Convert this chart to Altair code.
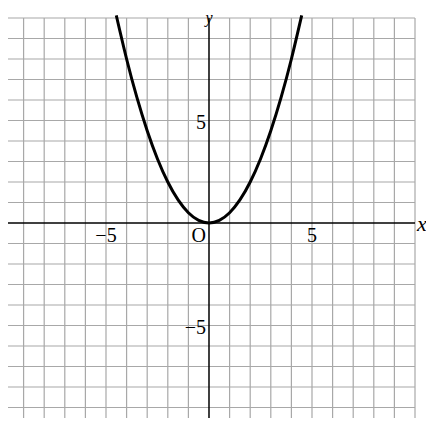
import altair as alt
import pandas as pd

# ---- data ----
grid_vals = list(range(-10, 11))          # grid lines, one per unit
axis_span = [-10, 10]                      # extent of the drawn axes
curve_x = [-4.5, -4, -3.5, -3, -2.5, -2, -1.5, -1, -0.5, 0,
           0.5, 1, 1.5, 2, 2.5, 3, 3.5, 4, 4.5]
curve_y = [10.125, 8, 6.125, 4.5, 3.125, 2, 1.125, 0.5, 0.125, 0,
           0.125, 0.5, 1.125, 2, 3.125, 4.5, 6.125, 8, 10.125]
x_tick_vals = [-5, 5]
x_tick_text = ["\u22125", "5"]
y_tick_vals = [5, -5]
y_tick_text = ["5", "\u22125"]

W, H = 418, 410
xs = alt.Scale(domain=[-9.757, 10.534], nice=False, zero=False)
ys = alt.Scale(domain=[-9.512, 10.488], nice=False, zero=False)
FONT = "Liberation Serif"
GRID = "#a8a8a8"

vgrid = pd.DataFrame({"x": [v for v in grid_vals if v != 0],
                      "y": axis_span[0], "y2": axis_span[1]})
hgrid = pd.DataFrame({"y": [v for v in grid_vals if v != 0],
                      "x": axis_span[0], "x2": axis_span[1]})

vg = alt.Chart(vgrid).mark_rule(color=GRID, strokeWidth=1.2, clip=True).encode(
    x=alt.X("x:Q", scale=xs, axis=None),
    y=alt.Y("y:Q", scale=ys, axis=None), y2="y2:Q")
hg = alt.Chart(hgrid).mark_rule(color=GRID, strokeWidth=1.2, clip=True).encode(
    y=alt.Y("y:Q", scale=ys, axis=None),
    x=alt.X("x:Q", scale=xs, axis=None), x2="x2:Q")

xaxis = alt.Chart(pd.DataFrame({"x": [axis_span[0]], "x2": [axis_span[1]], "y": [0]})).mark_rule(
    color="black", strokeWidth=1.5, clip=True).encode(
    x=alt.X("x:Q", scale=xs, axis=None), x2="x2:Q", y=alt.Y("y:Q", scale=ys, axis=None))
yaxis = alt.Chart(pd.DataFrame({"y": [axis_span[0]], "y2": [axis_span[1]], "x": [0]})).mark_rule(
    color="black", strokeWidth=1.5, clip=True).encode(
    y=alt.Y("y:Q", scale=ys, axis=None), y2="y2:Q", x=alt.X("x:Q", scale=xs, axis=None))

curve = alt.Chart(pd.DataFrame({"x": curve_x, "y": curve_y})).mark_line(
    color="black", strokeWidth=3, interpolate="natural", clip=True).encode(
    x=alt.X("x:Q", scale=xs, axis=None), y=alt.Y("y:Q", scale=ys, axis=None), order="x:Q")

xt = alt.Chart(pd.DataFrame({"x": x_tick_vals, "y": [0, 0], "t": x_tick_text})).mark_text(
    font=FONT, fontSize=20, align="center", baseline="middle", dy=13, color="black").encode(
    x=alt.X("x:Q", scale=xs, axis=None), y=alt.Y("y:Q", scale=ys, axis=None), text="t:N")
yt = alt.Chart(pd.DataFrame({"x": [0, 0], "y": y_tick_vals, "t": y_tick_text})).mark_text(
    font=FONT, fontSize=20, align="right", baseline="middle", dx=-3, dy=2, color="black").encode(
    x=alt.X("x:Q", scale=xs, axis=None), y=alt.Y("y:Q", scale=ys, axis=None), text="t:N")
origin = alt.Chart(pd.DataFrame({"x": [0], "y": [0], "t": ["O"]})).mark_text(
    font=FONT, fontSize=20, align="right", baseline="middle", dx=-3, dy=13, color="black").encode(
    x=alt.X("x:Q", scale=xs, axis=None), y=alt.Y("y:Q", scale=ys, axis=None), text="t:N")
xlab = alt.Chart(pd.DataFrame({"x": [axis_span[1]], "y": [0], "t": ["x"]})).mark_text(
    font=FONT, fontSize=22, fontStyle="italic", align="left", baseline="middle", dx=2, dy=1,
    color="black").encode(
    x=alt.X("x:Q", scale=xs, axis=None), y=alt.Y("y:Q", scale=ys, axis=None), text="t:N")
ylab = alt.Chart(pd.DataFrame({"x": [0], "y": [axis_span[1]], "t": ["y"]})).mark_text(
    font=FONT, fontSize=16, fontStyle="italic", align="center", baseline="alphabetic", dy=5,
    color="black").encode(
    x=alt.X("x:Q", scale=xs, axis=None), y=alt.Y("y:Q", scale=ys, axis=None), text="t:N")

chart = alt.layer(vg, hg, xaxis, yaxis, curve, xt, yt, origin, xlab, ylab).properties(
    width=W, height=H, autosize=alt.AutoSizeParams(type="none"), padding=0,
    background="white"
).configure_view(stroke=None)

chart.save("out.html", embed_options={"renderer": "svg", "actions": False})
